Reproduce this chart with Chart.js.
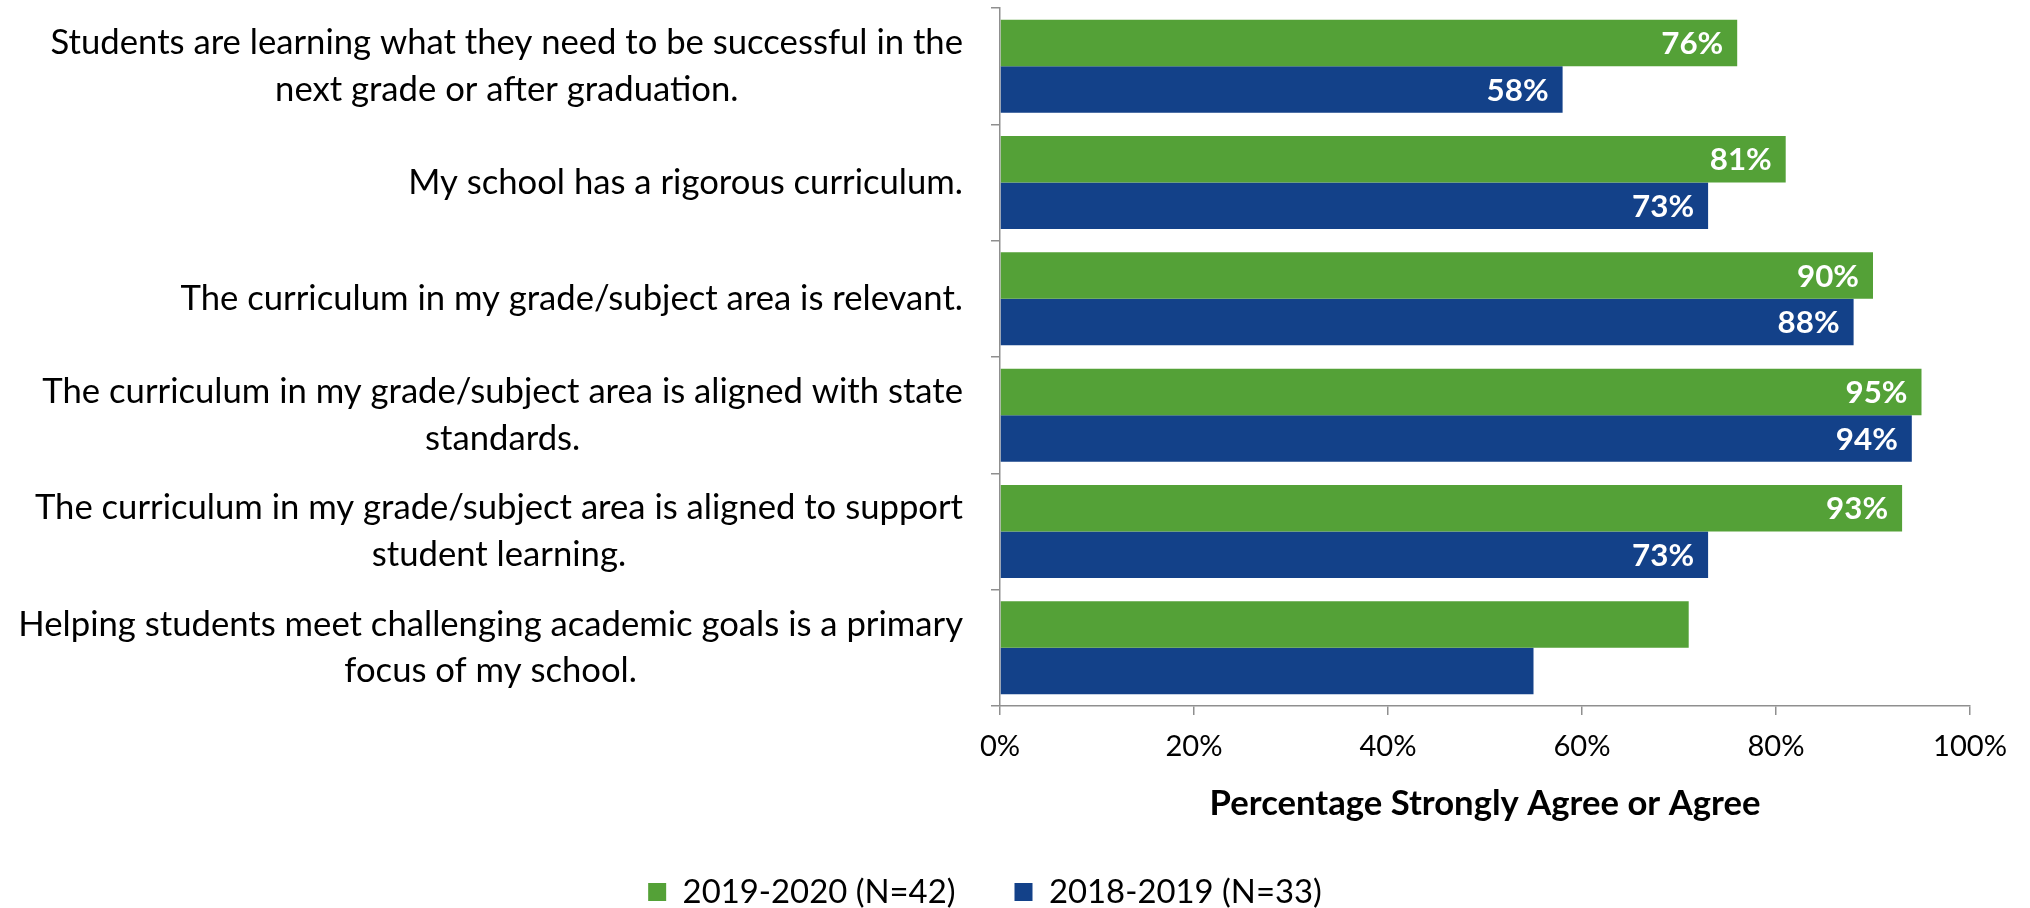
<!DOCTYPE html>
<html>
<head>
<meta charset="utf-8">
<script src="https://cdn.jsdelivr.net/npm/chart.js@4/dist/chart.umd.min.js"></script>
<style>
  html, body { margin: 0; padding: 0; background: #ffffff; }
  #wrap { width: 2030px; height: 908px; position: relative; }
</style>
</head>
<body>
<div id="wrap"><canvas id="c" width="2030" height="908"></canvas></div>
<script>
// ---- DATA ----
const categories = [
  ["Students are learning what they need to be successful in the", "next grade or after graduation."],
  ["My school has a rigorous curriculum."],
  ["The curriculum in my grade/subject area is relevant."],
  ["The curriculum in my grade/subject area is aligned with state", "standards."],
  ["The curriculum in my grade/subject area is aligned to support", "student learning."],
  ["Helping students meet challenging academic goals is a primary", "focus of my school."]
];
const seriesNames = ["2019-2020 (N=42)", "2018-2019 (N=33)"];
const values2019_2020 = [76, 81, 90, 95, 93, 71];
const values2018_2019 = [58, 73, 88, 94, 73, 55];
const showValueLabels = [true, true, true, true, true, false];
const xTicks = [0, 20, 40, 60, 80, 100];
const xAxisTitle = "Percentage Strongly Agree or Agree";

// ---- STYLE ----
const FAMILY = "Lato";
const GREEN = "#54A137";
const BLUE = "#134189";
const AXIS = "#8f8f8f";

const mctx = document.createElement('canvas').getContext('2d');
function fitSize(texts, weight, target) {
  mctx.font = weight + " 100px " + FAMILY;
  const w = Math.max(...texts.map(t => mctx.measureText(t).width));
  return 100 * target / w;
}
const allLines = categories.flat();
const yLabelSize = fitSize(allLines, "normal", 945);
const tickSize = fitSize(["100%"], "normal", 74);
const titleSize = fitSize([xAxisTitle], "bold", 551);
const legendSize = fitSize([seriesNames[0]], "normal", 273);
const dataLabelSize = fitSize(["76%"], "bold", 62);
const yLineHeight = 46.6;

const yLabelPlugin = {
  id: 'yLabels',
  afterDraw(chart) {
    const s = chart.scales.y;
    const ctx = chart.ctx;
    const labelRight = chart.chartArea.left - 37;
    ctx.save();
    ctx.font = "normal " + yLabelSize + "px " + FAMILY;
    ctx.fillStyle = "#000000";
    ctx.textBaseline = "middle";
    ctx.textAlign = "center";
    categories.forEach((lines, i) => {
      const y = s.getPixelForTick(i);
      const bw = Math.max(...lines.map(l => ctx.measureText(l).width));
      const cx = labelRight - bw / 2;
      lines.forEach((l, k) => {
        ctx.fillText(l, cx, y + (k - (lines.length - 1) / 2) * yLineHeight);
      });
    });
    ctx.restore();
  }
};

const valueLabelPlugin = {
  id: 'valueLabels',
  afterDatasetsDraw(chart) {
    const ctx = chart.ctx;
    ctx.save();
    ctx.font = "bold " + dataLabelSize + "px " + FAMILY;
    ctx.fillStyle = "#ffffff";
    ctx.textBaseline = "middle";
    ctx.textAlign = "right";
    chart.data.datasets.forEach((ds, di) => {
      const meta = chart.getDatasetMeta(di);
      meta.data.forEach((el, i) => {
        if (!showValueLabels[i]) return;
        ctx.fillText(ds.data[i] + "%", el.x - 14, el.y + 1);
      });
    });
    ctx.restore();
  }
};

new Chart(document.getElementById('c'), {
  type: 'bar',
  data: {
    labels: categories,
    datasets: [
      { label: seriesNames[0], data: values2019_2020, backgroundColor: GREEN, borderWidth: 0,
        categoryPercentage: 0.8, barPercentage: 1.0 },
      { label: seriesNames[1], data: values2018_2019, backgroundColor: BLUE, borderWidth: 0,
        categoryPercentage: 0.8, barPercentage: 1.0 }
    ]
  },
  options: {
    indexAxis: 'y',
    responsive: false,
    maintainAspectRatio: false,
    animation: false,
    devicePixelRatio: 1,
    layout: { padding: { left: 0, right: 60, top: 8, bottom: 0 } },
    scales: {
      y: {
        type: 'category',
        grid: { display: true, drawOnChartArea: false, drawTicks: true, tickLength: 9, offset: true,
                color: AXIS, lineWidth: 1.5 },
        border: { display: true, color: AXIS, width: 1.5 },
        ticks: { display: false },
        afterFit: (s) => { s.width = 1000; }
      },
      x: {
        type: 'linear',
        min: 0, max: 100,
        afterBuildTicks: (s) => { s.ticks = xTicks.map(v => ({ value: v })); },
        grid: { display: true, drawOnChartArea: false, drawTicks: true, tickLength: 9,
                color: AXIS, lineWidth: 1.5 },
        border: { display: true, color: AXIS, width: 1.5 },
        ticks: {
          callback: (v) => v + "%",
          font: { family: FAMILY, size: tickSize },
          color: "#000000",
          padding: 14,
          maxRotation: 0
        },
        title: {
          display: true,
          text: xAxisTitle,
          color: "#000000",
          font: { family: FAMILY, size: titleSize, weight: 'bold', lineHeight: 1.2 },
          padding: { top: 0, bottom: -8 }
        },
        afterFit: (s) => { s.height = 110.5; }
      }
    },
    plugins: {
      legend: {
        display: true,
        position: 'bottom',
        maxHeight: 91.5,
        labels: {
          boxWidth: 18, boxHeight: 18, padding: 59,
          color: "#000000",
          font: { family: FAMILY, size: legendSize }
        }
      },
      tooltip: { enabled: false }
    }
  },
  plugins: [yLabelPlugin, valueLabelPlugin]
});
</script>
</body>
</html>
